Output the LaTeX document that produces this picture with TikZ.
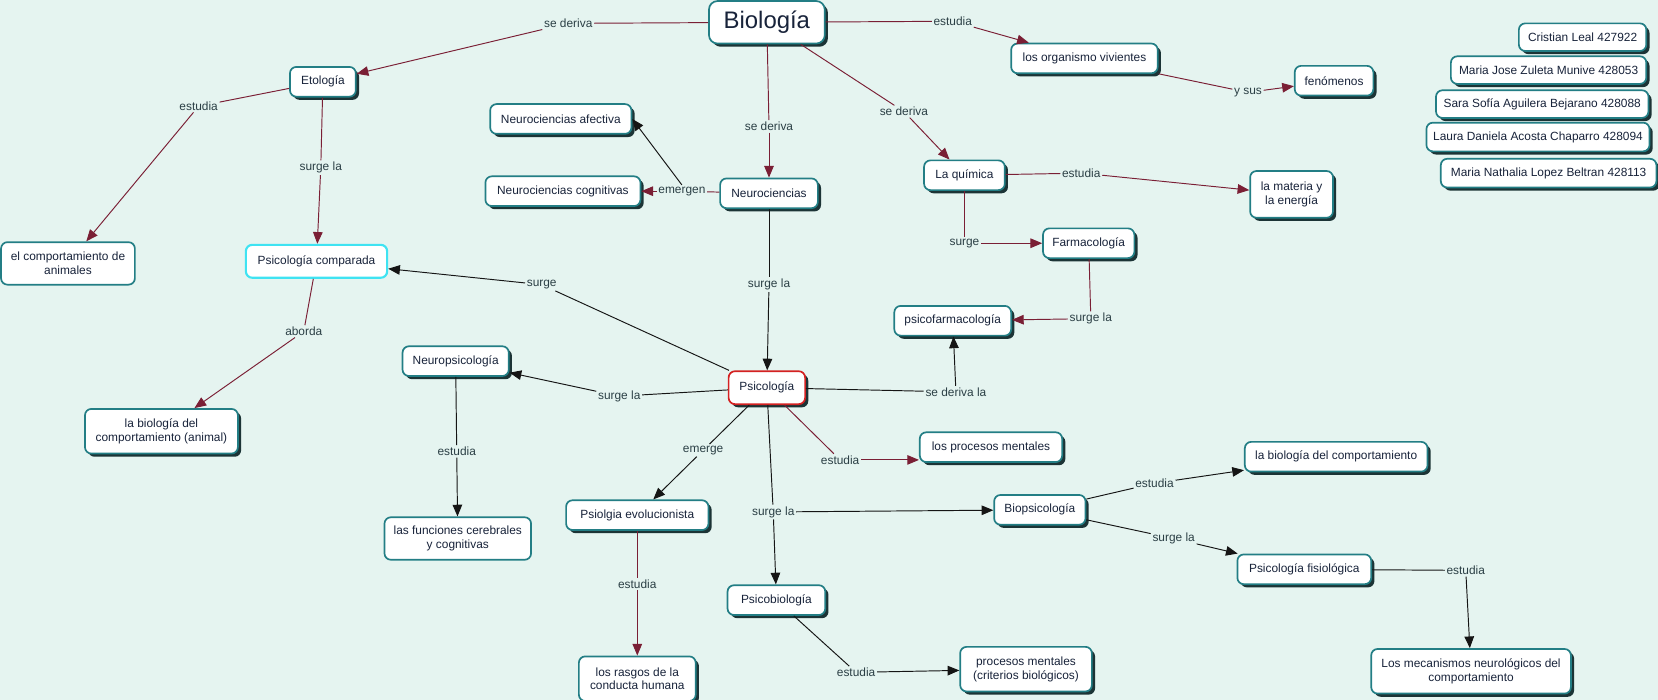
\documentclass[tikz,border=0pt]{standalone}
\usepackage{fontspec}
\setmainfont{Liberation Sans}
\usetikzlibrary{shadows,arrows.meta}
\definecolor{bgc}{HTML}{E5F4F0}
\definecolor{tealc}{HTML}{237E85}
\definecolor{shadc}{HTML}{1C3436}
\definecolor{txtc}{HTML}{18233A}
\definecolor{labc}{HTML}{2B3F45}
\definecolor{maroonc}{HTML}{7A1F35}
\definecolor{blackc}{HTML}{151515}
\definecolor{cyanc}{HTML}{3FE3F2}
\definecolor{redc}{HTML}{D42222}
\tikzset{
  cbox/.style={draw=tealc, line width=1.6pt, fill=white, rounded corners=6pt,
    text=txtc, font=\fontsize{11.2}{13}\selectfont, align=center,
    minimum height=28pt, inner sep=2pt},
  concept/.style={cbox, drop shadow={shadow xshift=3pt, shadow yshift=-3pt, fill=shadc, opacity=1}},
  lab/.style={fill=bgc, text=labc, font=\fontsize{11.2}{13}\selectfont, inner sep=1.5pt},
  mline/.style={draw=maroonc, line width=0.9pt},
  marr/.style={mline, -{Triangle[length=11pt,width=9pt]}},
  bline/.style={draw=blackc, line width=0.9pt},
  barr/.style={bline, -{Triangle[length=11pt,width=9pt]}},
}
\begin{document}
\begin{tikzpicture}[x=1pt,y=-1pt]
\useasboundingbox (0,0) rectangle (1561,659);
\fill[bgc] (0,0) rectangle (1561,659);

% concepts
\node[concept, minimum width=109pt, minimum height=40pt, rounded corners=8pt, font=\fontsize{22.5}{26}\selectfont] (bio) at (722,21) {Biología};
\node[concept, minimum width=62pt] (eto) at (304,77) {Etología};
\node[concept, minimum width=138pt] (org) at (1021,55) {los organismo vivientes};
\node[concept, minimum width=74pt] (fen) at (1256,76) {fenómenos};
\node[concept, minimum width=133pt] (naf) at (528,112) {Neurociencias afectiva};
\node[concept, minimum width=146pt] (ncog) at (530,180) {Neurociencias cognitivas};
\node[concept, minimum width=92pt] (neuro) at (724,182) {Neurociencias};
\node[concept, minimum width=76pt] (quim) at (908,165) {La química};
\node[concept, minimum width=78pt, minimum height=44pt] (mat) at (1216,183) {la materia y\\la energía};
\node[concept, minimum width=86pt] (farma) at (1025,229) {Farmacología};
\node[concept, minimum width=110pt] (psifar) at (897,302) {psicofarmacología};
\node[cbox, minimum width=126pt, minimum height=40pt] (comp) at (64,248) {el comportamiento de\\animales};
\node[cbox, draw=cyanc, line width=2pt, minimum width=133pt, minimum height=31pt] (pcomp) at (298,246) {Psicología comparada};
\node[concept, minimum width=100pt] (neurop) at (429,340) {Neuropsicología};
\node[concept, draw=redc, minimum width=72pt, minimum height=31pt] (psi) at (722,365) {Psicología};
\node[concept, minimum width=144pt, minimum height=42pt] (bioan) at (152,406) {la biología del\\comportamiento (animal)};
\node[concept, minimum width=134pt] (procm) at (933,421) {los procesos mentales};
\node[concept, minimum width=172pt] (biocomp) at (1258,430) {la biología del comportamiento};
\node[concept, minimum width=86pt] (biops) at (979,480) {Biopsicología};
\node[concept, minimum width=134pt] (evol) at (600,485) {Psiolgia evolucionista};
\node[cbox, minimum width=138pt, minimum height=40pt] (func) at (431,507) {las funciones cerebrales\\y cognitivas};
\node[concept, minimum width=126pt] (pfis) at (1228,536) {Psicología fisiológica};
\node[concept, minimum width=92pt] (psbio) at (731,565) {Psicobiología};
\node[concept, minimum width=110pt, minimum height=42pt] (rasg) at (600,639) {los rasgos de la\\conducta humana};
\node[concept, minimum width=124pt, minimum height=42pt] (procb) at (966,630) {procesos mentales\\(criterios biológicos)};
\node[concept, minimum width=188pt, minimum height=42pt] (mec) at (1385,632) {Los mecanismos neurológicos del\\comportamiento};

% authors
\node[concept, minimum width=120pt, minimum height=26pt] (a1) at (1490,35) {Cristian Leal 427922};
\node[concept, minimum width=184pt, minimum height=26pt] (a2) at (1458,66) {Maria Jose Zuleta Munive 428053};
\node[concept, minimum width=200pt, minimum height=26pt] (a3) at (1452,98) {Sara Sofía Aguilera Bejarano 428088};
\node[concept, minimum width=210pt, minimum height=27pt] (a4) at (1448,129) {Laura Daniela Acosta Chaparro 428094};
\node[concept, minimum width=203pt, minimum height=27pt] (a5) at (1458,163) {Maria Nathalia Lopez Beltran 428113};

% labels
\node[lab] (l1) at (535,22) {se deriva};
\node[lab] (l2) at (897,20) {estudia};
\node[lab] (l3) at (1175,87) {y sus};
\node[lab] (l4) at (724,119) {se deriva};
\node[lab] (l5) at (851,105) {se deriva};
\node[lab] (l6) at (187,100) {estudia};
\node[lab] (l7) at (302,158) {surge la};
\node[lab] (l8) at (642,180) {emergen};
\node[lab] (l9) at (724,268) {surge la};
\node[lab] (l10) at (1018,163) {estudia};
\node[lab] (l11) at (908,229) {surge};
\node[lab] (l12) at (1027,300) {surge la};
\node[lab] (l13) at (510,268) {surge};
\node[lab] (l14) at (286,312) {aborda};
\node[lab] (l15) at (583,373) {surge la};
\node[lab] (l16) at (900,369) {se deriva la};
\node[lab] (l17) at (791,433) {estudia};
\node[lab] (l18) at (662,424) {emerge};
\node[lab] (l19) at (728,482) {surge la};
\node[lab] (l20) at (430,425) {estudia};
\node[lab] (l21) at (600,550) {estudia};
\node[lab] (l22) at (806,633) {estudia};
\node[lab] (l23) at (1087,455) {estudia};
\node[lab] (l24) at (1105,507) {surge la};
\node[lab] (l25) at (1380,537) {estudia};

% connectors
\draw[mline] (bio) -- (l1); \draw[marr] (l1) -- (eto);
\draw[mline] (bio) -- (l2); \draw[marr] (l2) -- (org);
\draw[mline] (org) -- (l3); \draw[marr] (l3) -- (fen);
\draw[mline] (bio) -- (l4); \draw[marr] (l4) -- (neuro);
\draw[mline] (bio) -- (l5); \draw[marr] (l5) -- (quim);
\draw[mline] (eto) -- (l6); \draw[marr] (l6) -- (comp);
\draw[mline] (eto) -- (l7); \draw[marr] (l7) -- (pcomp);
\draw[mline] (neuro) -- (l8); \draw[marr] (l8) -- (ncog);
\draw[barr] (l8.north) -- (naf.east);
\draw[bline] (neuro) -- (l9); \draw[barr] (l9) -- (psi);
\draw[mline] (quim) -- (l10); \draw[marr] (l10) -- (mat);
\draw[mline] (quim) -- (l11); \draw[marr] (l11) -- (farma);
\draw[mline] (farma) -- (l12); \draw[marr] (l12) -- (psifar);
\draw[bline] (psi) -- (l13); \draw[barr] (l13) -- (pcomp);
\draw[mline] (pcomp) -- (l14); \draw[marr] (l14) -- (bioan);
\draw[bline] (psi) -- (l15); \draw[barr] (l15) -- (neurop);
\draw[bline] (psi) -- (l16); \draw[barr] (l16) -- (psifar);
\draw[mline] (psi) -- (l17); \draw[marr] (l17) -- (l17 -| procm.west);
\draw[bline] (psi) -- (l18); \draw[barr] (l18) -- (evol);
\draw[bline] (psi) -- (l19); \draw[barr] (l19) -- (biops); \draw[barr] (l19) -- (psbio);
\draw[bline] (neurop) -- (l20); \draw[barr] (l20) -- (func);
\draw[mline] (evol) -- (l21); \draw[marr] (l21) -- (rasg);
\draw[bline] (psbio) -- (l22); \draw[barr] (l22) -- (procb);
\draw[bline] (biops) -- (l23); \draw[barr] (l23) -- (biocomp);
\draw[bline] (biops) -- (l24); \draw[barr] (l24) -- (pfis);
\draw[bline] (pfis) -- (l25); \draw[barr] (l25) -- (mec);
\end{tikzpicture}
\end{document}
